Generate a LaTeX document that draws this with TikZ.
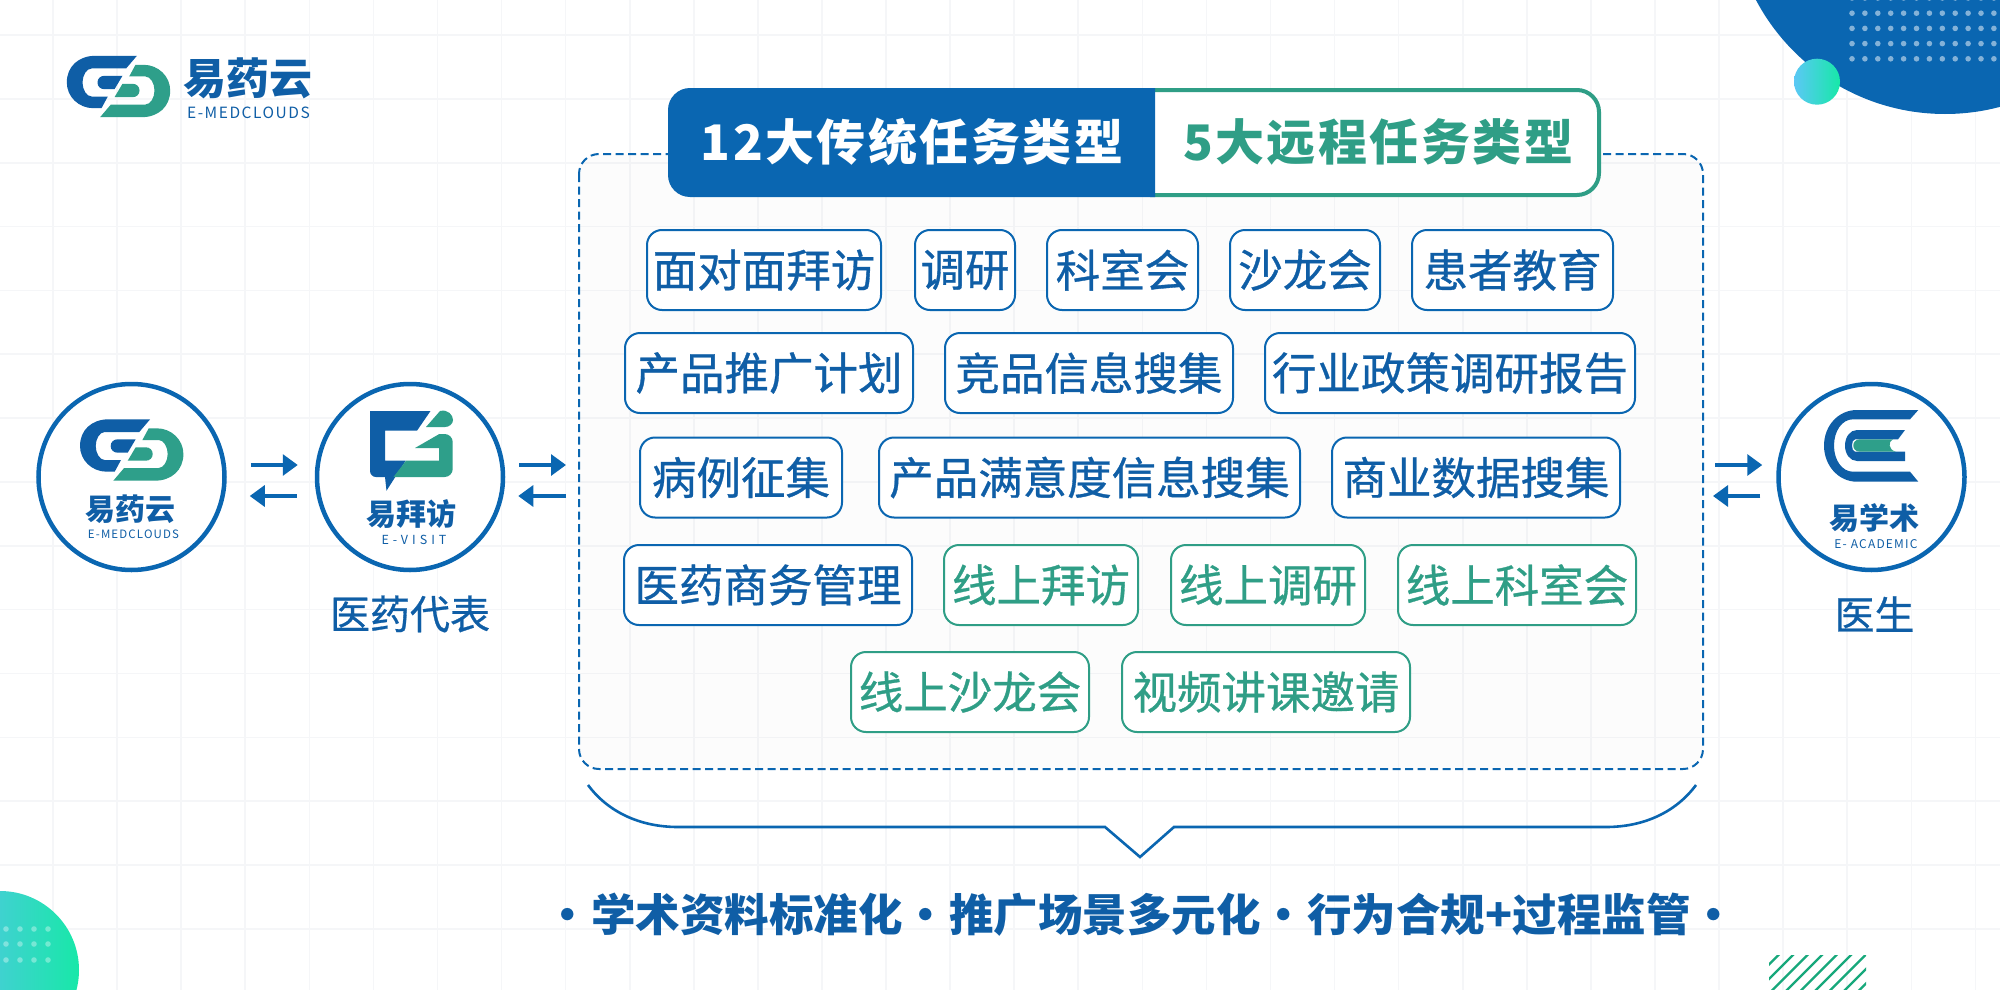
\documentclass[tikz,border=0pt]{standalone}
\usepackage{fontspec}
\usetikzlibrary{arrows.meta}
\newfontfamily\cjk{Noto Sans CJK SC}
\newfontfamily\cjkmid[FakeBold=0.7]{Noto Sans CJK SC}
\newfontfamily\cjkwide[LetterSpace=5]{Noto Sans CJK SC}
\newfontfamily\cjklogo[LetterSpace=10]{Noto Sans CJK SC}
\newfontfamily\cjkspaced[LetterSpace=32]{Noto Sans CJK SC}
\definecolor{brandblue}{HTML}{0A66B1}
\definecolor{deepblue}{HTML}{0F5EA6}
\definecolor{brandgreen}{HTML}{2F9E86}
\definecolor{markgreen}{HTML}{2E9F8A}
\definecolor{gridgray}{HTML}{F5F6F8}
\definecolor{hatchgreen}{HTML}{17A87B}
\definecolor{skystart}{HTML}{5BC8F5}
\definecolor{mintend}{HTML}{17E8A8}
\definecolor{tealstart}{HTML}{3FD2CF}
\tikzset{
  x=1pt, y=-1pt,
  gridline/.style={gridgray, line width=1.6pt},
  badge/.style={circle, draw=brandblue, line width=4.5pt, fill=white, minimum size=186pt, inner sep=0pt},
  flow/.style={brandblue, line width=3.2pt, -{Triangle[length=15pt,width=21pt]}},
  taskblue/.style={draw=brandblue, text=deepblue, line width=2pt, rounded corners=15pt, fill=white, minimum height=80pt, inner sep=0pt, font=\cjkmid\fontsize{44.5}{44.5}\selectfont},
  taskgreen/.style={taskblue, draw=brandgreen, text=brandgreen},
  caption/.style={text=deepblue, inner sep=0pt, font=\cjkmid\fontsize{40}{40}\selectfont},
  logoname/.style={text=deepblue, inner sep=0pt},
  pics/cloudmark/.style={code={
    \foreach \turn/\markfill in {0/deepblue, 180/markgreen} {
      \begin{scope}[rotate=\turn]
        \fill[\markfill] (18.4,-30.7) -- (-23,-30.7) .. controls (-40,-30.7) and (-51.7,-20) .. (-51.7,-4) .. controls (-51.7,10) and (-40,21.7) .. (-25,21.7) -- (-17,21.7) -- (-10.7,10) -- (-27,10) .. controls (-32,10) and (-36,3) .. (-36,-4) .. controls (-36,-11) and (-32,-18) .. (-27,-18) -- (7.6,-18) -- cycle;
        \fill[\markfill] (4,-10.7) -- (-14,-10.7) .. controls (-18,-10.7) and (-21,-8) .. (-21,-4) .. controls (-21,0) and (-18,2.7) .. (-14,2.7) -- (-4,2.7) -- cycle;
      \end{scope}
    }
  }}
}
\begin{document}
\begin{tikzpicture}
    \useasboundingbox (0,0) rectangle (2000,990);
    \fill[white] (0,0) rectangle (2000,990);

    % Grid
    \foreach \i in {0,...,30} \draw[gridline] (53+64.08*\i,0) -- (53+64.08*\i,990);
    \foreach \i in {0,...,15} \draw[gridline] (0,35+63.85*\i) -- (2000,35+63.85*\i);

    % Corner decoration
    \fill[brandblue] (1945,-99.7) circle (213.7);
    \foreach \x in {0,...,11} \foreach \y in {0,...,4}
        \fill[white, opacity=.5] (1852+12.9*\x,-2+15.2*\y) circle (2.8);
    \shade[left color=skystart, right color=mintend] (1817,81.7) circle (23);
    \begin{scope}
        \path[clip] (1769,955) rectangle (1866,990);
        \foreach \i in {0,...,9} \draw[hatchgreen, line width=2.4pt] (1769+14.5*\i,950) -- ++(-50,50);
    \end{scope}
    \begin{scope}
        \path[clip] (0,970) circle (79);
        \shade[left color=tealstart, right color=mintend] (0,880) rectangle (80,990);
    \end{scope}
    \foreach \x in {6,20,34,48} \foreach \y in {929,944,960}
        \fill[white, opacity=.35] (\x,\y) circle (2.8);

    % Top left logo
    \pic at (118.5,86.5) {cloudmark};
    \node[logoname, font=\cjk\bfseries\fontsize{43}{43}\selectfont] (toptitle) at (247.5,78) {易药云};
    \node[logoname, font=\cjklogo\fontsize{15.5}{15.5}\selectfont] (topname) at (248.5,112.5) {E-MEDCLOUDS};

    % Task panel
    \draw[brandblue, line width=2pt, fill=gray!40, fill opacity=.05, dash pattern=on 8pt off 4.5pt, rounded corners=20pt] (579,154) rectangle (1703,769);
    \draw[brandgreen, line width=4pt, fill=white, rounded corners=22pt] (1150,90) -- (1599,90) -- (1599,195) -- (1150,195);
    \fill[brandblue] (1155,88) [rounded corners=22pt] -- (668,88) -- (668,197) [sharp corners] -- (1155,197) -- cycle;
    \node[text=white, inner sep=0pt, font=\cjkwide\bfseries\fontsize{49}{49}\selectfont] (oldtitle) at (912,142) {12大传统任务类型};
    \node[text=brandgreen, inner sep=0pt, font=\cjkwide\bfseries\fontsize{49}{49}\selectfont] (newtitle) at (1378,142) {5大远程任务类型};

    \foreach \nm/\cx/\cy/\w/\tx in {
        face/764/270/234/面对面拜访, survey/965/270/100/调研, dept/1122.5/270/151/科室会,
        salon/1305/270/150/沙龙会, edu/1512.5/270/201/患者教育,
        plan/769/373/288/产品推广计划, rival/1089/373/288/竞品信息搜集, policy/1450/373/370/行业政策调研报告,
        cases/741/477.5/202/病例征集, satisfy/1089.5/477.5/421/产品满意度信息搜集, trade/1476/477.5/288/商业数据搜集,
        biz/768/585/288/医药商务管理}
        \node[taskblue, minimum width=\w pt] (\nm) at (\cx,\cy) {\tx};
    \foreach \nm/\cx/\cy/\w/\tx in {
        onvisit/1041/585/194/线上拜访, onsurvey/1268/585/194/线上调研, ondept/1517/585/238/线上科室会,
        onsalon/970/692/238/线上沙龙会, invite/1266/692/288/视频讲课邀请}
        \node[taskgreen, minimum width=\w pt] (\nm) at (\cx,\cy) {\tx};

    % Bracket under the panel
    \coordinate (bl) at (588,785); \coordinate (br) at (1696,785);
    \coordinate (tip) at (1140,857);
    \draw[brandblue, line width=2.6pt] (bl) .. controls (608,812) and (640,827) .. (678,827) -- (1105,827) -- (tip) -- (1174,827) -- (1606,827) .. controls (1644,827) and (1676,812) .. (br);

    \node[text=deepblue, inner sep=0pt, font=\cjk\bfseries\fontsize{44.5}{44.5}\selectfont] (summary) at (1141,915)
        {·\hspace{1pt}学术资料标准化\hspace{1pt}·\hspace{1pt}推广场景多元化\hspace{1pt}·\hspace{1pt}行为合规+过程监管\hspace{1pt}·};

    % Badges
    \node[badge] (cloud) at (131.5,477) {};
    \node[badge] (visit) at (410,477) {};
    \node[badge] (academic) at (1871.5,477) {};

    \pic at (131.7,450) {cloudmark};
    \node[logoname, font=\cjk\bfseries\fontsize{30}{30}\selectfont] (cloudtitle) at (130.5,509) {易药云};
    \node[logoname, font=\cjklogo\fontsize{11.5}{11.5}\selectfont] (cloudname) at (133.5,534) {E-MEDCLOUDS};

    % E-visit mark
    \fill[deepblue] (430.5,411) -- (370,411) -- (370,470) [rounded corners=6pt] -- (370,477) [sharp corners] -- (385,477) -- (386.5,490.7) -- (405.7,460.7) -- (385,460.7) -- (385,430.7) -- (417,430.7) -- cycle;
    \fill[markgreen, rounded corners=8pt] (393.5,477) -- (452.7,477) -- (452.7,434) [sharp corners] -- (439.3,434) -- (415,448) -- (439,448) -- (439,460.7) -- (406,460.7) -- cycle;
    \fill[markgreen] (426,427) -- (440,411) .. controls (448,409) and (453,415) .. (453,420) .. controls (453,424) and (449,427) .. (445,427) -- cycle;
    \node[logoname, font=\cjk\bfseries\fontsize{30}{30}\selectfont] (visittitle) at (411,514) {易拜访};
    \node[logoname, font=\cjkspaced\fontsize{12.5}{12.5}\selectfont] (visitname) at (414,539.5) {E-VISIT};

    % E-academic mark
    \fill[deepblue] (1918.3,410) -- (1910,419.3) -- (1853,419.3) .. controls (1842,419.3) and (1834,431) .. (1834,445.7) .. controls (1834,460) and (1842,471.7) .. (1853,471.7) -- (1910,471.7) -- (1918.3,481.7) -- (1857,481.7) .. controls (1838,481.7) and (1824,465) .. (1824,445.7) .. controls (1824,426) and (1838,410) .. (1857,410) -- cycle;
    \fill[deepblue] (1905,430) -- (1898,439.3) -- (1855,439.3) .. controls (1851,439.3) and (1851,451.7) .. (1855,451.7) -- (1905,451.7) -- (1905,461) -- (1857,461) .. controls (1850,461) and (1845,454) .. (1845,445.7) .. controls (1845,437) and (1850,430) .. (1857,430) -- cycle;
    \fill[markgreen] (1893,439.3) -- (1860,439.3) .. controls (1851,439.3) and (1851,451.7) .. (1860,451.7) -- (1896,451.7) .. controls (1888,450) and (1888,441) .. (1893,439.3) -- cycle;
    \node[logoname, font=\cjk\bfseries\fontsize{30}{30}\selectfont] (academictitle) at (1874.5,518) {易学术};
    \node[logoname, font=\cjklogo\fontsize{12}{12}\selectfont] (academicname) at (1876,544) {E- ACADEMIC};

    % Captions
    \node[caption] (rep) at (410,614) {医药代表};
    \node[caption] (doctor) at (1874.5,614) {医生};

    % Arrows between the parties
    \coordinate (panelin) at (566,465); \coordinate (panelback) at (566,496);
    \coordinate (panelout) at (1715,465); \coordinate (panelreturn) at (1713,496);
    \draw[flow] ([xshift=24pt,yshift=12pt]cloud.east) -- ([xshift=-17pt,yshift=12pt]visit.west);
    \draw[flow] ([xshift=-18pt,yshift=-19pt]visit.west) -- ([xshift=23pt,yshift=-19pt]cloud.east);
    \draw[flow] ([xshift=14pt,yshift=12pt]visit.east) -- (panelin);
    \draw[flow] (panelback) -- ([xshift=13pt,yshift=-19pt]visit.east);
    \draw[flow] (panelout) -- ([xshift=-14pt,yshift=12pt]academic.west);
    \draw[flow] ([xshift=-16pt,yshift=-19pt]academic.west) -- (panelreturn);
\end{tikzpicture}
\end{document}
